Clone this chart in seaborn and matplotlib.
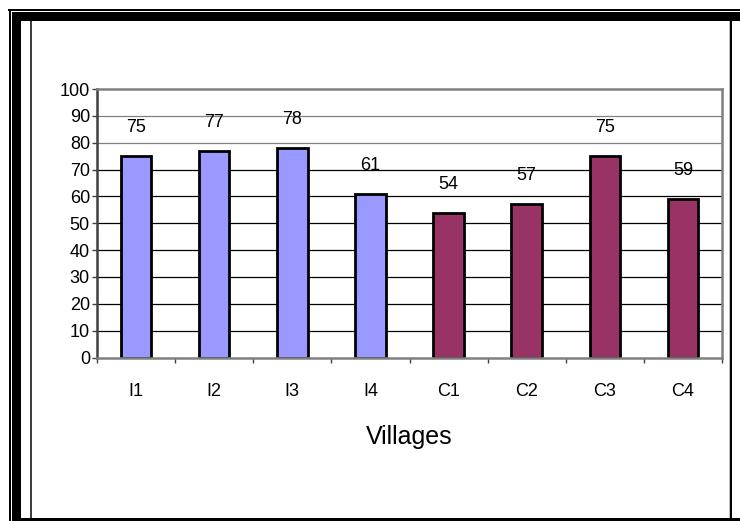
import seaborn as sns
import pandas as pd
import matplotlib.pyplot as plt
from matplotlib.patches import Rectangle
from matplotlib.ticker import FixedLocator

# data
villages = ['I1', 'I2', 'I3', 'I4', 'C1', 'C2', 'C3', 'C4']
values = [75, 77, 78, 61, 54, 57, 75, 59]
colors = ['#9999FF'] * 4 + ['#993366'] * 4
yticks = [0, 10, 20, 30, 40, 50, 60, 70, 80, 90, 100]

df = pd.DataFrame({'village': villages, 'value': values})

sns.set_style('white')
plt.rcParams['font.family'] = ['Liberation Sans', 'DejaVu Sans']
plt.rcParams['text.color'] = 'black'
plt.rcParams['xtick.labelcolor'] = 'black'
plt.rcParams['ytick.labelcolor'] = 'black'
plt.rcParams['axes.labelcolor'] = 'black'

W, H = 740, 521
fig = plt.figure(figsize=(7.4, 5.21), dpi=100)
fig.patch.set_facecolor('white')

# plot area in pixels: left 97, right 722, top 89, bottom 357.5
ax = fig.add_axes([97 / W, 1 - 357.5 / H, (722 - 97) / W, (357.5 - 89) / H])

# grid lines behind the bars (upper ones are grey in the original)
for v in yticks[1:-1]:
    c = 'black' if v <= 70 else '#808080'
    ax.axhline(v, color=c, lw=0.9, zorder=0.5)

sns.barplot(data=df, x='village', y='value', hue='village', palette=colors,
            legend=False, width=0.39, saturation=1, edgecolor='black',
            linewidth=2, ax=ax, zorder=2)

for i, v in enumerate(values):
    ax.annotate(str(v), (i, v), xytext=(0, 20.5), textcoords='offset points',
                ha='center', va='center', fontsize=13, color='black')

ax.set_xlim(-0.5, len(villages) - 0.5)
ax.set_ylim(0, 100)
ax.set_yticks(yticks)
ax.tick_params(axis='y', length=3.6, width=1, color='#404040', pad=1.5, labelsize=13, direction='out', left=True)
ax.set_xticks(range(len(villages)))
ax.set_xticklabels(villages)
ax.tick_params(axis='x', which='major', length=0, pad=18.5, labelsize=13)
ax.xaxis.set_minor_locator(FixedLocator([i - 0.5 for i in range(len(villages) + 1)]))
ax.tick_params(axis='x', which='minor', length=3.6, width=1, color='#404040', direction='out', bottom=True)

ax.set_xlabel('Villages', fontsize=18, va='center', color='black')
ax.xaxis.set_label_coords(0.5, (357.5 - 437) / (357.5 - 89))
ax.set_ylabel('')

for s in ['top', 'right', 'bottom']:
    ax.spines[s].set_color('#808080')
    ax.spines[s].set_linewidth(1.8)
ax.spines['left'].set_color('#404040')
ax.spines['left'].set_linewidth(1.8)
for s in ax.spines.values():
    s.set_visible(True)


def px_rect(x0, y0, x1, y1, color):
    fig.add_artist(Rectangle((x0 / W, 1 - y1 / H), (x1 - x0) / W, (y1 - y0) / H,
                             transform=fig.transFigure, facecolor=color,
                             edgecolor='none', zorder=10))


# outer frame of the chart object
px_rect(8, 9, W, 11, 'black')
px_rect(9, 9, 11, H, 'black')
px_rect(12, 12, W, 21, 'black')
px_rect(12, 12, 21, H, 'black')
px_rect(30, 21, 32, 518, '#404040')
px_rect(729, 21, 730, 518, '#c0c0c0')
px_rect(730, 21, 732, 518, 'black')
px_rect(21, 518, W, H, 'black')

plt.savefig('out.png', dpi=100)
